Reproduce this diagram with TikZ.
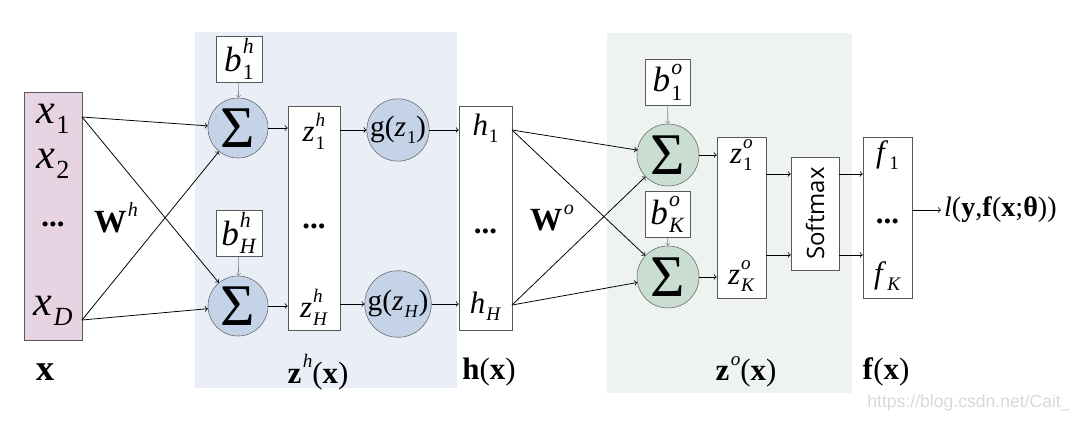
\documentclass[tikz,border=0pt]{standalone}
\usepackage{graphicx}
\usepackage{fontspec}
\setmainfont{Liberation Serif}
\newfontfamily\smfont{Open Sans}
\newfontfamily\wmfont{Liberation Sans}

\definecolor{bgblue}{HTML}{EAEFF7}
\definecolor{bggreen}{HTML}{EEF3EF}
\definecolor{sumblue}{HTML}{C5D3E8}
\definecolor{sumgreen}{HTML}{CADDD3}
\definecolor{inpink}{HTML}{E8D3E3}

% letra con subindice y superindice apilados
\newcommand{\lsub}[3]{\textit{#1}\kern0.03em\ooalign{\raisebox{0.5em}{\scalebox{0.62}{\textit{#2}}}\cr\raisebox{-0.24em}{\scalebox{0.62}{#3}}\cr}}
\newcommand{\lsup}[2]{\textbf{#1}\kern0.05em\raisebox{0.5em}{\scalebox{0.62}{\textit{#2}}}}

\tikzset{
  box/.style={draw=black!65, fill=white, inner sep=0pt},
  sumnode/.style={circle, draw=black!60, inner sep=0pt, minimum size=1.5cm},
  conn/.style={->, line width=0.55pt},
  biasarr/.style={->, gray},
  sigma/.style={font=\fontsize{42}{42}\selectfont},
  fsbig/.style={font=\fontsize{30}{30}\selectfont},
  fsmid/.style={font=\fontsize{22}{22}\selectfont},
  fsbias/.style={font=\fontsize{25}{25}\selectfont},
  fslab/.style={font=\fontsize{22}{22}\selectfont},
}

\begin{document}
\begin{tikzpicture}[x=0.025cm, y=-0.025cm, >=to]
        \useasboundingbox (0,0) rectangle (1070,421);
        % Fondos de las capas
        \fill[bgblue] (195,32) rectangle (457,388);
        \fill[bggreen] (607,33) rectangle (852,393);

        % Entrada
        \node[box, fill=inpink, minimum width=1.45cm, minimum height=6.2cm] (inp) at (53,216) {};
        \node[fsbig] (x1) at (53,118) {\lsub{x}{}{1}};
        \node[fsbig] (x2) at (53,163) {\lsub{x}{}{2}};
        \node[fsmid] (xdots) at (53,224) {\textbf{...}};
        \node[fsbig] (xD) at (53,310) {\lsub{x}{}{\textit{D}}};
        \coordinate (in1) at (82,117);
        \coordinate (inD) at (82,320);

        % Capa oculta
        \node[sumnode, fill=sumblue, sigma] (s1) at (238,128) {Σ};
        \node[sumnode, fill=sumblue, sigma] (sH) at (238,306) {Σ};
        \node[box, minimum width=1.15cm, minimum height=1.15cm, fsbias] (b1) at (239,59) {\lsub{b}{h}{1}};
        \node[box, minimum width=1.15cm, minimum height=1.15cm, fsbias] (bH) at (239,233) {\lsub{b}{h}{\textit{H}}};
        \draw[biasarr] (b1) -- (s1);
        \draw[biasarr] (bH) -- (sH);
        \draw[conn] (in1) -- (s1);
        \draw[conn] (in1) -- (sH);
        \draw[conn] (inD) -- (s1);
        \draw[conn] (inD) -- (sH);
        \node[font=\fontsize{23}{23}\selectfont] (Wh) at (116,218) {\lsup{W}{h}};

        \node[box, minimum width=1.3cm, minimum height=5.6cm] (zh) at (314,218) {};
        \node[fsmid] (zh1) at (314,131) {\lsub{z}{h}{1}};
        \node[fsmid] (zhd) at (314,226) {\textbf{...}};
        \node[fsmid] (zhH) at (314,307) {\lsub{z}{h}{\textit{H}}};
        \draw[conn] (s1) -- (zh.west |- s1);
        \draw[conn] (sH) -- (zh.west |- sH);

        \node[sumnode, fill=sumblue, minimum size=1.55cm, font=\fontsize{21}{21}\selectfont] (g1) at (398,130) {g(\lsub{z}{}{1})};
        \node[sumnode, fill=sumblue, minimum size=1.55cm, font=\fontsize{21}{21}\selectfont] (gH) at (398,304) {g(\lsub{z}{}{\textit{H}})};
        \draw[conn] (zh.east |- g1) -- (g1);
        \draw[conn] (zh.east |- gH) -- (gH);

        \node[box, minimum width=1.325cm, minimum height=5.6cm] (hb) at (485.5,218) {};
        \node[fsmid] (h1) at (485.5,128) {\lsub{h}{}{1}};
        \node[fsmid] (hd) at (485.5,231) {\textbf{...}};
        \node[fsmid] (hH) at (485.5,306) {\lsub{h}{}{\textit{H}}};
        \draw[conn] (g1) -- (hb.west |- g1);
        \draw[conn] (gH) -- (hb.west |- gH);
        \coordinate (hout1) at (512,130);
        \coordinate (houtH) at (512,305);

        % Capa de salida
        \node[sumnode, fill=sumgreen, minimum size=1.55cm, sigma] (so1) at (668,155) {Σ};
        \node[sumnode, fill=sumgreen, minimum size=1.55cm, sigma] (soK) at (668,277) {Σ};
        \node[box, minimum width=1.125cm, minimum height=1.15cm, fsbias] (bo1) at (667.5,82) {\lsub{b}{o}{1}};
        \node[box, minimum width=1.125cm, minimum height=1.15cm, fsbias] (boK) at (667.5,214.5) {\lsub{b}{o}{\textit{K}}};
        \draw[biasarr] (bo1) -- (so1);
        \draw[biasarr] (boK) -- (soK);
        \draw[conn] (hout1) -- (so1);
        \draw[conn] (hout1) -- (soK);
        \draw[conn] (houtH) -- (so1);
        \draw[conn] (houtH) -- (soK);
        \node[font=\fontsize{23}{23}\selectfont] (Wo) at (552,218) {\lsup{W}{o}};

        \node[box, minimum width=1.225cm, minimum height=4.025cm] (zo) at (741.5,217.5) {};
        \node[fsmid] (zo1) at (741.5,155) {\lsub{z}{o}{1}};
        \node[fsmid] (zoK) at (741.5,276) {\lsub{z}{o}{\textit{K}}};
        \draw[conn] (so1) -- (zo.west |- so1);
        \draw[conn] (soK) -- (zo.west |- soK);

        \node[box, minimum width=1.2cm, minimum height=2.825cm] (sm) at (815,213.5) {};
        \node[rotate=90, font=\smfont\fontsize{17}{17}\selectfont] (smtxt) at (sm) {Softmax};
        \coordinate (ya) at (0,174);
        \coordinate (yb) at (0,255);
        \draw[conn] (zo.east |- ya) -- (sm.west |- ya);
        \draw[conn] (zo.east |- yb) -- (sm.west |- yb);

        \node[box, minimum width=1.225cm, minimum height=4.025cm] (fb) at (887.5,217.5) {};
        \node[fsmid] (f1) at (887.5,155) {\lsub{f}{}{1}};
        \node[fsmid] (fd) at (887.5,221) {\textbf{...}};
        \node[fsmid] (fK) at (887.5,276) {\lsub{f}{}{\textit{K}}};
        \draw[conn] (sm.east |- ya) -- (fb.west |- ya);
        \draw[conn] (sm.east |- yb) -- (fb.west |- yb);

        \node[font=\fontsize{20}{20}\selectfont, anchor=west, inner sep=2pt] (loss) at (941,210) {\textit{l}(\textbf{y},\textbf{f}(\textbf{x};\textbf{θ}))};
        \draw[conn] (fb.east |- loss) -- (loss);

        % Etiquetas inferiores
        \node[font=\fontsize{26}{26}\selectfont] (lx) at (45,372) {\textbf{x}};
        \node[fslab] (lzh) at (318,372) {\lsup{z}{h}(\textbf{x})};
        \node[fslab] (lh) at (489,372) {\textbf{h}(\textbf{x})};
        \node[fslab] (lzo) at (746,372) {\lsup{z}{o}(\textbf{x})};
        \node[fslab] (lf) at (886,372) {\textbf{f}(\textbf{x})};
        \node[gray!30, font=\wmfont\fontsize{12.5}{12.5}\selectfont] (wm) at (969,403) {https://blog.csdn.net/Cait\_};
    \end{tikzpicture}
\end{document}
